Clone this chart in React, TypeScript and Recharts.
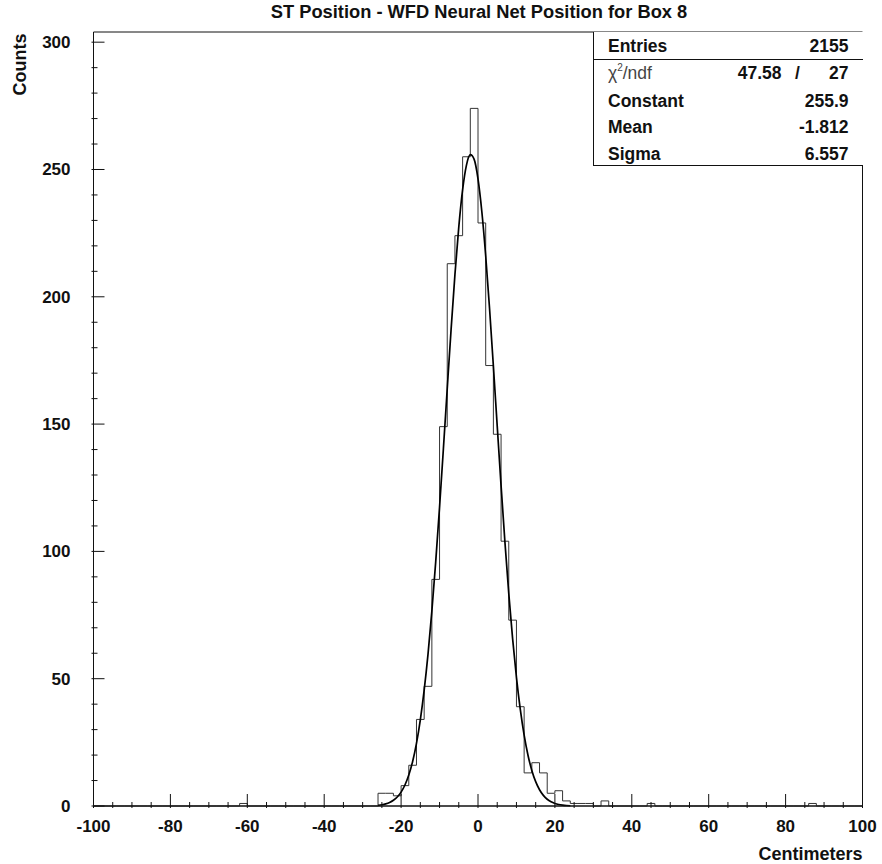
import React from "react";
import { ComposedChart, Line, XAxis, YAxis, ReferenceArea } from "recharts";

// histogram: 2 cm bins from -100 to 100, only non-empty bins listed
const binWidth = 2;
const filledBinLows = [
  -62, -26, -24, -22, -20, -18, -16, -14, -12, -10, -8, -6, -4, -2, 0, 2, 4, 6,
  8, 10, 12, 14, 16, 18, 20, 22, 24, 26, 28, 32, 44, 86,
];
const filledBinCounts = [
  1, 5, 5, 4, 8, 16, 34, 47, 89, 149, 213, 224, 255, 274, 229, 173, 146, 104,
  73, 39, 13, 17, 13, 5, 6, 2, 1, 1, 1, 2, 1, 1,
];

// gaussian fit curve, sampled every 1 cm
const fitX = [
  -26, -25, -24, -23, -22, -21, -20, -19, -18, -17, -16, -15, -14, -13, -12,
  -11, -10, -9, -8, -7, -6, -5, -4, -3, -2, -1, 0, 1, 2, 3, 4, 5, 6, 7, 8, 9,
  10, 11, 12, 13, 14, 15, 16, 17, 18, 19, 20, 21, 22, 23, 24,
];
const fitY = [
  0.28, 0.49, 0.83, 1.38, 2.24, 3.53, 5.46, 8.24, 12.16, 17.5, 24.62, 33.86,
  45.48, 59.68, 76.54, 95.89, 117.35, 140.31, 163.93, 187.11, 208.69, 227.37,
  242.06, 251.73, 255.8, 253.95, 246.31, 233.41, 216.11, 195.48, 172.76,
  149.19, 125.85, 103.74, 83.53, 65.72, 50.52, 37.93, 27.84, 19.95, 13.97,
  9.56, 6.39, 4.18, 2.66, 1.66, 1.01, 0.6, 0.35, 0.19, 0.1,
];

const xTicks = [
  -100, -95, -90, -85, -80, -75, -70, -65, -60, -55, -50, -45, -40, -35, -30,
  -25, -20, -15, -10, -5, 0, 5, 10, 15, 20, 25, 30, 35, 40, 45, 50, 55, 60, 65,
  70, 75, 80, 85, 90, 95, 100,
];
const xLabels = [-100, -80, -60, -40, -20, 0, 20, 40, 60, 80, 100];
const yTicks = [
  0, 10, 20, 30, 40, 50, 60, 70, 80, 90, 100, 110, 120, 130, 140, 150, 160, 170,
  180, 190, 200, 210, 220, 230, 240, 250, 260, 270, 280, 290, 300,
];
const yLabels = [0, 50, 100, 150, 200, 250, 300];

const statLabels = ["Entries", "Constant", "Mean", "Sigma"];
const statValues = ["2155", "255.9", "-1.812", "6.557"];
const chi2 = "47.58";
const ndf = "27";

const font = "'Liberation Sans', Arial, Helvetica, sans-serif";
const ink = "#111";

const histData = (() => {
  const rows: { x: number; count: number }[] = [];
  for (let lo = -100; lo < 100; lo += binWidth) {
    const i = filledBinLows.indexOf(lo);
    rows.push({ x: lo, count: i >= 0 ? filledBinCounts[i] : 0 });
  }
  rows.push({ x: 100, count: 0 });
  return rows;
})();

const fitData = fitX.map((x, i) => ({ x, fit: fitY[i] }));

const XTick = (props: any) => {
  const { x, y, payload } = props;
  const major = xLabels.includes(payload.value);
  return (
    <g>
      <line x1={x} x2={x} y1={y} y2={y - (major ? 14 : 6)} stroke={ink} strokeWidth={1} />
      {major && (
        <text x={x} y={y + 24} textAnchor="middle" fontFamily={font} fontWeight="bold" fontSize={17} fill={ink}>
          {payload.value}
        </text>
      )}
    </g>
  );
};

const YTick = (props: any) => {
  const { x, y, payload } = props;
  const major = yLabels.includes(payload.value);
  return (
    <g>
      <line x1={x} x2={x + (major ? 13 : 6)} y1={y} y2={y} stroke={ink} strokeWidth={1} />
      {major && (
        <text x={x - 21} y={y + 6} textAnchor="end" fontFamily={font} fontWeight="bold" fontSize={17} fill={ink}>
          {payload.value}
        </text>
      )}
    </g>
  );
};

const rowTops = [36, 63, 91, 117, 144];

export default function App() {
  return (
    <div style={{ position: "absolute", left: 0, top: 0, width: 882, height: 864, background: "#fff", fontFamily: font, color: ink, overflow: "hidden" }}>
      <ComposedChart width={882} height={864} margin={{ top: 32, right: 19.5, bottom: 18, left: 33.5 }}>
        <XAxis
          type="number"
          dataKey="x"
          domain={[-100, 100]}
          ticks={xTicks}
          interval={0}
          tickSize={0}
          tickLine={false}
          tick={<XTick />}
          height={40}
          axisLine={{ stroke: ink, strokeWidth: 1 }}
        />
        <YAxis
          type="number"
          domain={[0, 304]}
          ticks={yTicks}
          interval={0}
          tickSize={0}
          tickLine={false}
          tick={<YTick />}
          width={60}
          axisLine={{ stroke: ink, strokeWidth: 1 }}
        />
        <ReferenceArea x1={-100} x2={100} y1={0} y2={304} fill="none" stroke={ink} strokeWidth={1} />
        <Line
          data={histData}
          dataKey="count"
          type="stepAfter"
          stroke="#333"
          strokeWidth={1}
          dot={false}
          activeDot={false}
          isAnimationActive={false}
        />
        <Line
          data={fitData}
          dataKey="fit"
          type="monotone"
          stroke="#000"
          strokeWidth={1.7}
          dot={false}
          activeDot={false}
          isAnimationActive={false}
        />
      </ComposedChart>

      <div style={{ position: "absolute", left: 0, width: 958, top: 2, textAlign: "center", fontWeight: "bold", fontSize: 18.3, lineHeight: "20px" }}>
        ST Position - WFD Neural Net Position for Box 8
      </div>

      <div style={{ position: "absolute", left: 10, top: 32, width: 20, height: 64, display: "flex", alignItems: "center", justifyContent: "center" }}>
        <div style={{ transform: "rotate(-90deg)", fontWeight: "bold", fontSize: 18, whiteSpace: "nowrap" }}>Counts</div>
      </div>

      <div style={{ position: "absolute", right: 19.5, top: 846, fontWeight: "bold", fontSize: 18, lineHeight: "16px" }}>
        Centimeters
      </div>

      <div style={{ position: "absolute", left: 593, top: 32, width: 269.5, height: 134, borderLeft: `1px solid ${ink}`, borderBottom: `1px solid ${ink}`, boxSizing: "border-box", background: "#fff" }}>
        <div style={{ position: "absolute", left: 0, right: 0, top: 27, borderTop: `1px solid ${ink}` }} />
        {[0, 1, 2, 3, 4].map((r) => {
          const top = rowTops[r] - 32;
          if (r === 1) {
            return (
              <div key={r} style={{ position: "absolute", left: 0, right: 0, top, height: 20, lineHeight: "20px", fontSize: 17.5 }}>
                <span style={{ position: "absolute", left: 14, color: "#444", fontWeight: 300 }}>
                  χ<sup style={{ fontSize: 10, verticalAlign: "8px", lineHeight: 0 }}>2</sup>/ndf
                </span>
                <span style={{ position: "absolute", right: 81, fontWeight: "bold" }}>{chi2}</span>
                <span style={{ position: "absolute", left: 201, fontWeight: "bold" }}>/</span>
                <span style={{ position: "absolute", right: 14, fontWeight: "bold" }}>{ndf}</span>
              </div>
            );
          }
          const k = r === 0 ? 0 : r - 1;
          return (
            <div key={r} style={{ position: "absolute", left: 0, right: 0, top, height: 20, lineHeight: "20px", fontSize: 17.5, fontWeight: "bold" }}>
              <span style={{ position: "absolute", left: 14 }}>{statLabels[k]}</span>
              <span style={{ position: "absolute", right: 14 }}>{statValues[k]}</span>
            </div>
          );
        })}
      </div>
    </div>
  );
}
